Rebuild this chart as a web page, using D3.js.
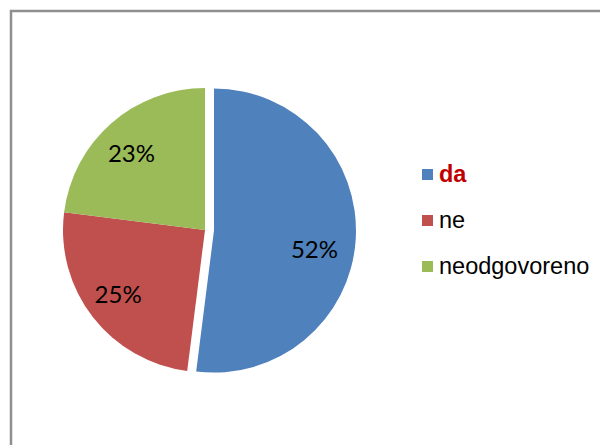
<!DOCTYPE html>
<html>
<head>
<meta charset="utf-8">
<script src="https://cdn.jsdelivr.net/npm/d3@7"></script>
<style>
  html, body { margin: 0; padding: 0; background: #fff; }
  svg { display: block; }
</style>
</head>
<body>
<div id="chart"></div>
<script>
// Pie: answers da / ne / neodgovoreno
const categories = ["da", "ne", "neodgovoreno"];
const values = [52, 25, 23];
const colors = ["#4F81BD", "#C0504D", "#9BBB59"];

const width = 600, height = 445;
const cx = 205, cy = 230, radius = 142;
const explode = 9; // first slice pulled out

const svg = d3.select("#chart").append("svg")
  .attr("width", width).attr("height", height);

// chart frame (runs off the right and bottom edges)
svg.append("rect").attr("x", 11).attr("y", 11)
  .attr("width", width).attr("height", height)
  .attr("fill", "none").attr("stroke", "#8f8f8f").attr("stroke-width", 2.5);

const data = categories.map((c, i) => ({ name: c, value: values[i], color: colors[i] }));

const pie = d3.pie().value(d => d.value).sort(null);
const arc = d3.arc().innerRadius(0).outerRadius(radius);
const arcs = pie(data);

const g = svg.append("g").attr("transform", `translate(${cx},${cy})`);

function offset(d, i) {
  if (i !== 0) return [0, 0];
  const a = (d.startAngle + d.endAngle) / 2;
  return [explode * Math.sin(a), -explode * Math.cos(a)];
}

const slice = g.selectAll("g.slice").data(arcs).join("g")
  .attr("class", "slice")
  .attr("transform", (d, i) => `translate(${offset(d, i)})`);

slice.append("path").attr("d", arc).attr("fill", d => d.data.color);

// percentage labels (Excel nudges the big slice label a bit lower)
const labelArc = d3.arc().innerRadius(radius * 0.73).outerRadius(radius * 0.73);
slice.append("text")
  .attr("transform", (d, i) => {
    const [x, y] = labelArc.centroid(d);
    return `translate(${x - (i === 0 ? 3 : 5)},${y + (i === 0 ? 13 : 1)})`;
  })
  .attr("text-anchor", "middle").attr("dy", "0.35em")
  .attr("font-family", "Lato, 'Open Sans', sans-serif").attr("font-size", 24)
  .attr("fill", "#000")
  .text(d => `${d.data.value}%`);

// legend
const legendX = 422, legendY = 169, legendStep = 46;
const legend = svg.append("g").attr("transform", `translate(${legendX},${legendY})`);
data.forEach((d, i) => {
  legend.append("rect").attr("x", 0).attr("y", i * legendStep)
    .attr("width", 11).attr("height", 11).attr("fill", d.color);
  legend.append("text").attr("x", 17).attr("y", i * legendStep + 13)
    .attr("font-family", "'Liberation Sans', Arial, sans-serif").attr("font-size", 23.5)
    .attr("font-weight", i === 0 ? "bold" : "normal")
    .attr("fill", i === 0 ? "#C00000" : "#000")
    .text(d.name);
});
</script>
</body>
</html>
